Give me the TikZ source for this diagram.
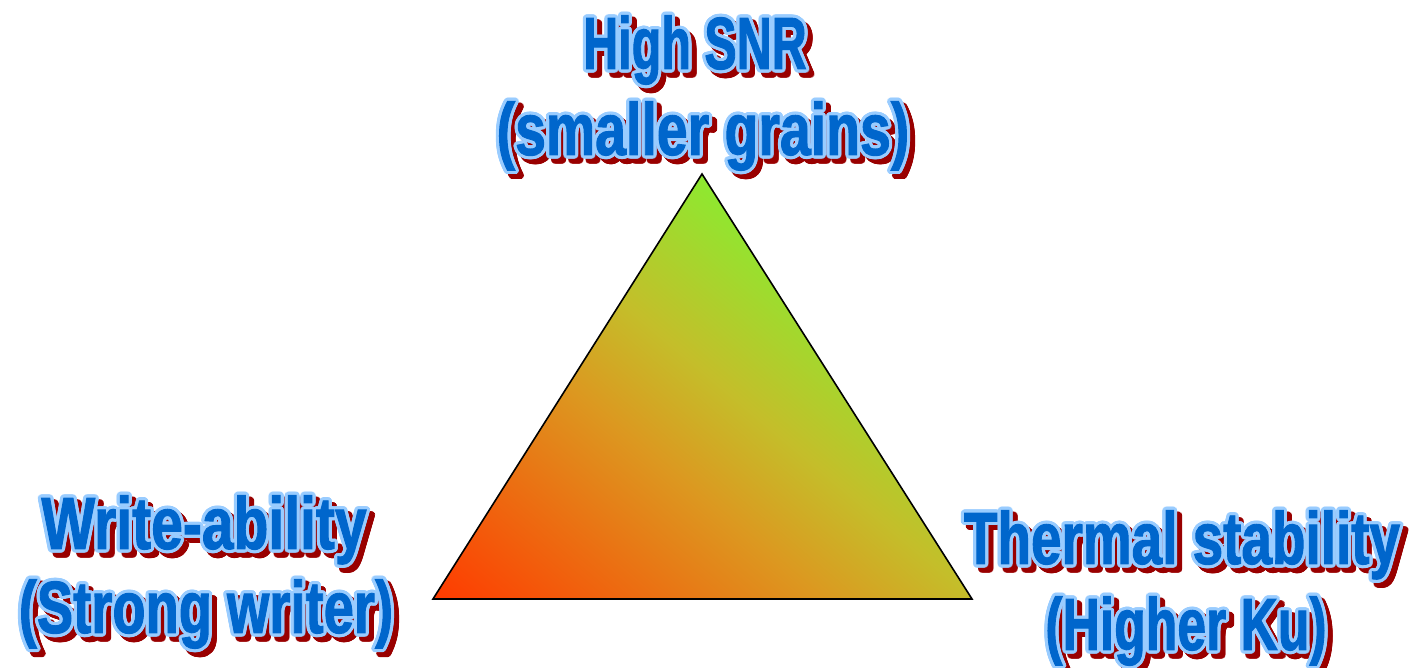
\documentclass[tikz,border=0pt]{standalone}
\usepackage{fontspec}
\setmainfont{Liberation Sans}[FakeStretch=0.72,FakeBold=1.2]
\usepackage{graphicx}
\definecolor{mainblue}{RGB}{0,102,204}
\definecolor{lineblue}{RGB}{153,204,255}
\definecolor{shadowred}{RGB}{153,0,0}
\definecolor{c0}{RGB}{255,58,0}
\definecolor{c1}{RGB}{220,152,32}
\definecolor{c2}{RGB}{196,190,42}
\definecolor{c3}{RGB}{140,234,48}
\pgfdeclarehorizontalshading{trishade}{100bp}{color(0bp)=(c0); color(25bp)=(c0); color(50bp)=(c1); color(60bp)=(c2); color(75bp)=(c3); color(100bp)=(c3)}
\tikzset{
  lbl/.style={inner sep=0pt, outer sep=0pt, anchor=base,
    font=\fontsize{74}{86}\selectfont\bfseries},
  tri/.style={draw=black, line width=1.6pt, line join=miter}
}
\newcommand\glowlabel[5]{% name, x, y, xscale, text
  \foreach \ang in {0,22.5,...,337.5}{
    \node[lbl, text=shadowred, xshift=5pt, yshift=-5pt, shift={(\ang:3.2pt)}] at (#2,#3) {\scalebox{#4}[1]{#5}};
  }
  \foreach \ang in {0,22.5,...,337.5}{
    \node[lbl, text=lineblue, shift={(\ang:3.2pt)}] at (#2,#3) {\scalebox{#4}[1]{#5}};
  }
  \node[lbl, text=mainblue] (#1) at (#2,#3) {\scalebox{#4}[1]{#5}};
}
\begin{document}
\begin{tikzpicture}[x=1pt,y=1pt]
\useasboundingbox (0,0) rectangle (1413,668);
\coordinate (A) at (433,69);
\coordinate (B) at (702,494);
\coordinate (C) at (972,69);
\begin{scope}
  \clip (A) -- (B) -- (C) -- cycle;
  \begin{scope}[transform canvas={shift={(433pt,69pt)}, rotate=50}]
    \shade[shading=trishade] (0,-700) rectangle (500,700);
  \end{scope}
\end{scope}
\draw[tri] (A) -- (B) -- (C) -- cycle;
\glowlabel{snr1}{695}{599}{0.91}{High SNR}
\glowlabel{snr2}{703}{513}{1.04}{(smaller grains)}
\glowlabel{wr1}{204}{119}{1.07}{Write-ability}
\glowlabel{wr2}{206}{35}{1.02}{(Strong writer)}
\glowlabel{th1}{1182}{104}{1.03}{Thermal stability}
\glowlabel{th2}{1186}{18}{0.97}{(Higher Ku)}
\end{tikzpicture}
\end{document}
